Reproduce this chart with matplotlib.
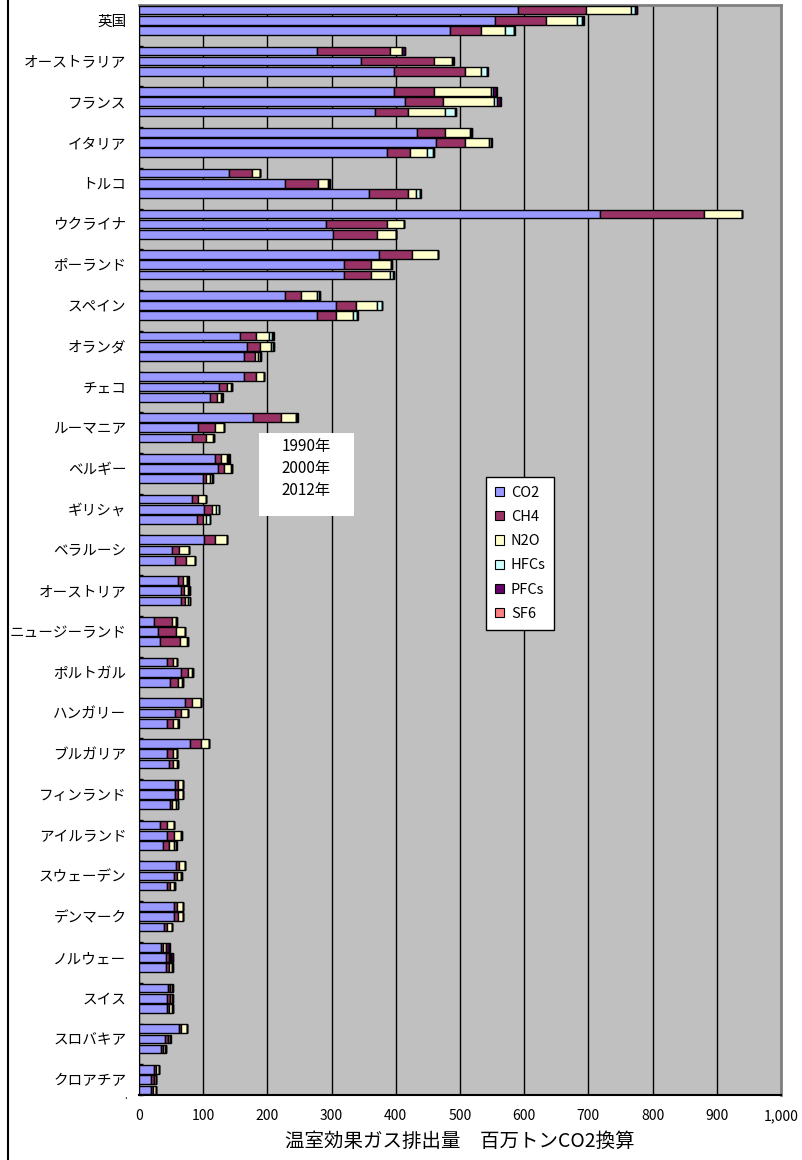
import numpy as np
import matplotlib.pyplot as plt
from matplotlib.patches import Patch, Rectangle
from matplotlib.lines import Line2D

plt.rcParams['font.family'] = ['Noto Sans CJK JP', 'DejaVu Sans']

# --- data: greenhouse gas emissions, million t CO2 eq (1990, 2000, 2012 per country) ---
countries = ['英国', 'オーストラリア', 'フランス', 'イタリア', 'トルコ', 'ウクライナ',
             'ポーランド', 'スペイン', 'オランダ', 'チェコ', 'ルーマニア', 'ベルギー',
             'ギリシャ', 'ベラルーシ', 'オーストリア', 'ニュージーランド', 'ポルトガル',
             'ハンガリー', 'ブルガリア', 'フィンランド', 'アイルランド', 'スウェーデン',
             'デンマーク', 'ノルウェー', 'スイス', 'スロバキア', 'クロアチア']
years = ['1990年', '2000年', '2012年']
gases = ['CO2', 'CH4', 'N2O', 'HFCs', 'PFCs', 'SF6']
colors = ['#9999FF', '#993366', '#FFFFCC', '#CCFFFF', '#660066', '#FF8080']

co2 = [591, 555, 484,  277, 346, 397,  397, 415, 367,  433, 462, 386,
       140, 227, 358,  718, 292, 302,  374, 320, 320,  227, 307, 277,
       158, 168, 164,  164, 125, 111,  178, 92, 83,  118, 123, 99,
       83, 101, 90,  101, 51, 56,  61, 65, 65,  23, 30, 32,
       43, 65, 48,  71, 56, 44,  79, 44, 47,  56, 56, 48,
       32, 44, 37,  57, 54, 44,  54, 54, 39,  34, 42, 42,
       45, 44, 43,  62, 41, 34,  23, 19, 18]
ch4 = [106, 79, 49,  114, 114, 111,  62, 59, 52,  44, 46, 36,
       36, 52, 61,  162, 94, 68,  51, 42, 42,  25, 31, 30,
       24, 21, 16,  18, 12, 10,  43, 26, 21,  10, 9, 6,
       9, 12, 9,  17, 12, 17,  7, 5, 6,  28, 28, 32,
       10, 12, 13,  12, 9, 9,  17, 9, 6,  5, 5, 4,
       12, 11, 10,  6, 5, 4,  5, 6, 5,  3, 4, 5,
       4, 4, 4,  4, 4, 4,  3, 4, 4]
n2o = [69, 48, 37,  18, 27, 25,  90, 79, 58,  39, 37, 27,
       12, 16, 13,  59, 27, 30,  40, 30, 29,  26, 32, 26,
       21, 17, 6,  12, 7, 7,  23, 14, 11,  9, 12, 6,
       12, 7, 6,  19, 15, 15,  7, 7, 6,  7, 13, 10,
       6, 6, 6,  14, 11, 7,  13, 6, 6,  7, 7, 6,
       10, 10, 8,  8, 6, 7,  9, 8, 7,  5, 3, 4,
       3, 3, 4,  8, 3, 3,  5, 3, 4]
hfcs = [7, 8, 14,  1, 1.5, 9,  2, 4, 15,  0.5, 3, 9,
        0, 1, 5,  0, 0, 0,  0, 1, 5,  3, 8, 6,
        4, 3, 3,  0, 0.5, 2,  0, 0, 1.5,  1, 1, 3,
        0.5, 5, 5,  0, 0, 0,  0.5, 1.5, 2,  0, 0.5, 2,
        0, 0.5, 1.5,  0, 0.5, 1.5,  0, 0, 2,  0, 0.5, 2,
        0, 1, 2,  0, 1, 1,  0, 0.5, 1,  0, 0.5, 1,
        0, 1, 1.5,  0, 0, 0.5,  0, 0.5, 1]
pfcs = [2, 1, 0.5,  4, 1, 0.5,  5, 5, 1,  2, 1, 1,
        0.5, 1, 1,  0, 0, 0,  0, 0.5, 0.5,  1, 0.5, 1,
        2.5, 1.5, 0.5,  0, 0, 0,  2.5, 0.5, 0.5,  2, 0.5, 0.5,
        0.5, 0, 0.5,  0, 0, 0,  1, 0.5, 0.5,  0.5, 0, 0,
        0, 0, 0,  0, 0, 0,  0, 0, 0,  0, 0, 0,
        0, 0.5, 1,  0.5, 1, 0.5,  0, 0, 0,  5, 3, 0.5,
        0.5, 0.5, 0,  0.5, 1, 0.5,  0, 0, 0]
sf6 = [1, 2, 1,  0.5, 0.5, 0.5,  2, 2, 1.5,  0.5, 1, 0.5,
       0.5, 0.5, 1,  0, 0, 0,  0, 0.5, 0.5,  0.5, 0.5, 1,
       0.5, 0.5, 0.5,  0, 0, 0.5,  0.5, 0, 0,  2, 0, 0.5,
       0, 0, 0,  0, 0, 0,  1, 1, 0.5,  0.5, 0, 0,
       0, 0, 0,  0, 0, 0.5,  0, 0, 0.5,  0, 0, 0.5,
       0, 0.5, 1,  0, 0.5, 0,  0, 0, 0,  2, 1, 0.5,
       0.5, 0.5, 0.5,  0, 0.5, 0.5,  0, 0, 0]

W, H = 802, 1160
fig = plt.figure(figsize=(W / 100, H / 100), dpi=100)
ax = fig.add_axes([139 / W, 1 - 1095 / H, 642 / W, 1090 / H])
ax.set_facecolor('#C0C0C0')

# each country: three bars (1990, 2000, 2012) followed by one empty row
rows = np.array([4 * k + j for k in range(len(countries)) for j in range(3)])
series = [co2, ch4, n2o, hfcs, pfcs, sf6]
left = np.zeros(len(rows))
for vals, col in zip(series, colors):
    vals = np.array(vals, dtype=float)
    ax.barh(rows, vals, left=left, height=0.85, color=col,
            edgecolor='black', linewidth=1, zorder=3)
    left += vals

ax.set_ylim(106.5, -0.5)
ax.set_xlim(0, 1000)

ax.set_yticks([4 * k + 1 for k in range(len(countries))])
ax.set_yticklabels(countries, fontsize=10.5)
ax.tick_params(axis='y', which='major', length=0, pad=9)
ax.set_yticks([4 * k - 0.5 for k in range(len(countries))] + [106.5], minor=True)
ax.tick_params(axis='y', which='minor', direction='in', length=3, width=1)

xt = np.arange(0, 1001, 100)
ax.set_xticks(xt)
ax.set_xticklabels([f'{v:,}' for v in xt], fontsize=10)
ax.tick_params(axis='x', length=0, pad=10)
ax.xaxis.grid(True, color='black', linewidth=1)
ax.set_axisbelow(True)
ax.set_xlabel('温室効果ガス排出量　百万トンCO2換算', fontsize=14, labelpad=6)

ax.spines['left'].set_color('black')
ax.spines['bottom'].set_color('black')
ax.spines['bottom'].set_linewidth(1.5)
ax.spines['top'].set_color('#808080')
ax.spines['right'].set_color('#808080')
ax.spines['top'].set_linewidth(2)
ax.spines['right'].set_linewidth(2)

# stray category label below the last group
fig.text(126 / W, 1 - 1096 / H, '.', fontsize=7, ha='center', va='center')

# outer chart frame (left edge)
fig.add_artist(Line2D([7.5 / W, 7.5 / W], [0, 1], color='black', linewidth=1.5,
                      transform=fig.transFigure))

# year order note
fig.add_artist(Rectangle((259 / W, 1 - 516 / H), 95 / W, 83 / H,
                         facecolor='white', edgecolor='none',
                         transform=fig.transFigure, zorder=5))
for i, yr in enumerate(years):
    fig.text(306 / W, 1 - (447 + 22 * i) / H, yr, fontsize=11,
             ha='center', va='center', zorder=6)

handles = [Patch(facecolor=c, edgecolor='black', linewidth=0.8) for c in colors]
leg = ax.legend(handles, gases, loc='upper left',
                bbox_to_anchor=(486 / W, 1 - 477 / H), bbox_transform=fig.transFigure,
                fontsize=10.5, frameon=True, fancybox=False, framealpha=1,
                edgecolor='black', handlelength=0.6, handleheight=0.6,
                handletextpad=0.5, labelspacing=0.7, borderpad=0.6,
                borderaxespad=0)
leg.get_frame().set_linewidth(1)
leg.set_zorder(10)

fig.savefig('out.png', dpi=100)
